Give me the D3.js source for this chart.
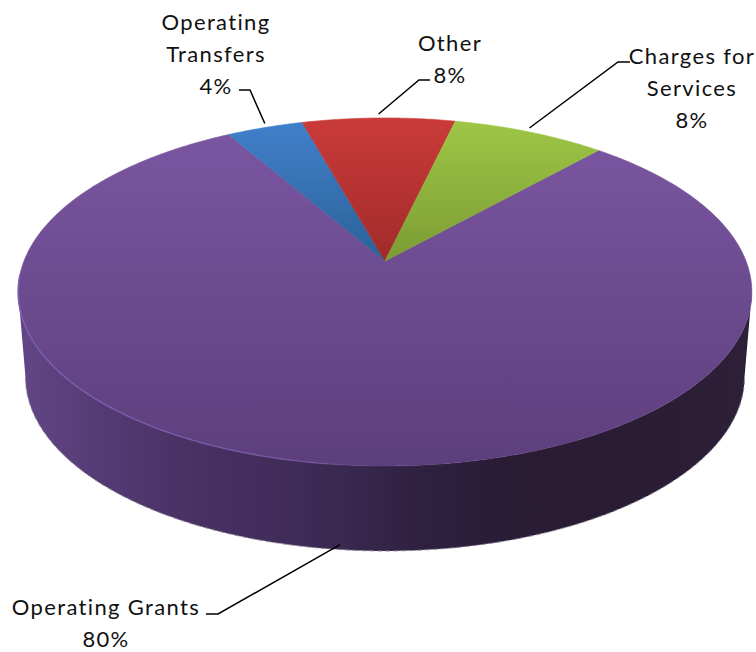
<!DOCTYPE html>
<html>
<head>
<meta charset="utf-8">
<script src="https://cdn.jsdelivr.net/npm/d3@7/dist/d3.min.js"></script>
<style>
  html, body { margin: 0; padding: 0; background: #fff; }
  svg { display: block; }
  text { font-family: Lato, "Noto Sans", sans-serif; font-size: 22px; fill: #111; letter-spacing: 1.35px; }
</style>
</head>
<body>
<svg id="chart" width="756" height="652"></svg>
<script>
// Funding sources, in slice order clockwise from the front-right of the disc
const categories = ["Operating Grants", "Operating Transfers", "Other", "Charges for Services"];
const shares = [80, 4, 8, 8];
const topColors = [["#7b57a2", "#5d3e7d"], ["#4180cc", "#2a6196"], ["#ca3b39", "#a02b2a"], ["#9fc746", "#7b9c33"]];
const wallStops = ["#624686", "#553b75", "#4a3265", "#432d5c", "#39284f", "#2e2040", "#291c35", "#291c33", "#2b1d35", "#2e2039"];

// Label blocks: lines, centre, first baseline, then the leader's text end and elbow
const labelLines = [["Operating Grants", "80%"], ["Operating", "Transfers", "4%"], ["Other", "8%"], ["Charges for", "Services", "8%"]];
const labelCentres = [[106, 615], [216, 30], [450, 51], [692, 64]];
const labelElbows = [[[206, 614], [218, 614]], [[239, 90], [250, 90]], [[430, 80], [419, 80]], [[630, 62], [618, 62]]];

// Tilted-disc projection: unit circle to screen with a perspective term
const cx = 385, cy = 261, radius = 361, squash = 168.5, persp = 0.178, depth = 85, floorScale = 0.98;
const startDeg = 42;

function project(theta, drop = 0, scale = 1) {
  const u = Math.sin(theta), v = -Math.cos(theta), w = 1 - persp * v;
  return [cx + scale * radius * u / w, cy + squash * v / w + drop];
}
const sampleArc = (a, b, drop, scale) => {
  const n = Math.max(2, Math.ceil(Math.abs(b - a) / 0.01));
  return d3.range(n + 1).map(i => project(a + (b - a) * i / n, drop, scale));
};

const svg = d3.select("#chart");
const defs = svg.append("defs");
const line = d3.line();

const start = startDeg * Math.PI / 180;
const arcs = d3.pie().sort(null).startAngle(start).endAngle(start + 2 * Math.PI)(shares);

// Top face shading, one vertical gradient per slice
topColors.forEach((c, i) => {
  const g = defs.append("linearGradient").attr("id", "top" + i)
    .attr("gradientUnits", "userSpaceOnUse")
    .attr("x1", 0).attr("x2", 0).attr("y1", 118).attr("y2", i === 0 ? 466 : 262);
  g.append("stop").attr("offset", 0).attr("stop-color", c[0]);
  g.append("stop").attr("offset", 1).attr("stop-color", c[1]);
});

// Side wall shading runs left to right
const wallGrad = defs.append("linearGradient").attr("id", "wall")
  .attr("gradientUnits", "userSpaceOnUse").attr("x1", 18).attr("x2", 753).attr("y1", 0).attr("y2", 0);
wallStops.forEach((c, i) => wallGrad.append("stop").attr("offset", i / (wallStops.length - 1)).attr("stop-color", c));

const rimGrad = defs.append("linearGradient").attr("id", "rim")
  .attr("gradientUnits", "userSpaceOnUse").attr("x1", 18).attr("x2", 360).attr("y1", 0).attr("y2", 0);
rimGrad.append("stop").attr("offset", 0).attr("stop-color", "#7f5fb0");
rimGrad.append("stop").attr("offset", 0.8).attr("stop-color", "#7357a0");
rimGrad.append("stop").attr("offset", 1).attr("stop-color", "#7357a0").attr("stop-opacity", 0);

// Front wall, between the silhouette points of the top and floor ellipses
const wallFrom = Math.acos(-persp), wallTo = 2 * Math.PI - wallFrom;
const upper = sampleArc(wallFrom, wallTo, 0, 1);
const lower = sampleArc(wallTo, wallFrom, depth, floorScale);
svg.append("path").attr("d", line(upper.concat(lower)) + "Z").attr("fill", "url(#wall)");
svg.append("path").attr("d", line(lower)).attr("fill", "none")
  .attr("stroke", "#8d8494").attr("stroke-width", 1).attr("stroke-dasharray", "5 3");

// Top face slices
svg.append("g").selectAll("path").data(arcs).join("path")
  .attr("d", d => line([[cx, cy]].concat(sampleArc(d.startAngle, d.endAngle, 0, 1))) + "Z")
  .attr("fill", (d, i) => `url(#top${i})`)
  .attr("stroke", (d, i) => `url(#top${i})`)
  .attr("stroke-width", 0.6);

// Lit rim along the front-left edge of the top face
svg.append("path").attr("d", line(sampleArc(Math.PI * 1.02, wallTo + 0.1, 0, 1)))
  .attr("fill", "none").attr("stroke", "url(#rim)").attr("stroke-width", 1.4);

// Leaders run from the text to the slice edge at the slice's mid angle
arcs.forEach((d, i) => {
  const mid = (d.startAngle + d.endAngle) / 2;
  const tip = i === 0 ? project(mid, depth - 5, floorScale) : project(mid, -4, 1);
  svg.append("path").attr("d", line(labelElbows[i].concat([tip])))
    .attr("fill", "none").attr("stroke", "#000").attr("stroke-width", 1.5);
});

// Category and share labels
const labels = svg.append("g").selectAll("text").data(labelLines).join("text")
  .attr("text-anchor", "middle");
labels.selectAll("tspan").data((d, i) => d.map(t => ({ t, i }))).join("tspan")
  .attr("x", d => labelCentres[d.i][0])
  .attr("y", (d, j) => labelCentres[d.i][1] + j * 32)
  .text(d => d.t);
</script>
</body>
</html>
